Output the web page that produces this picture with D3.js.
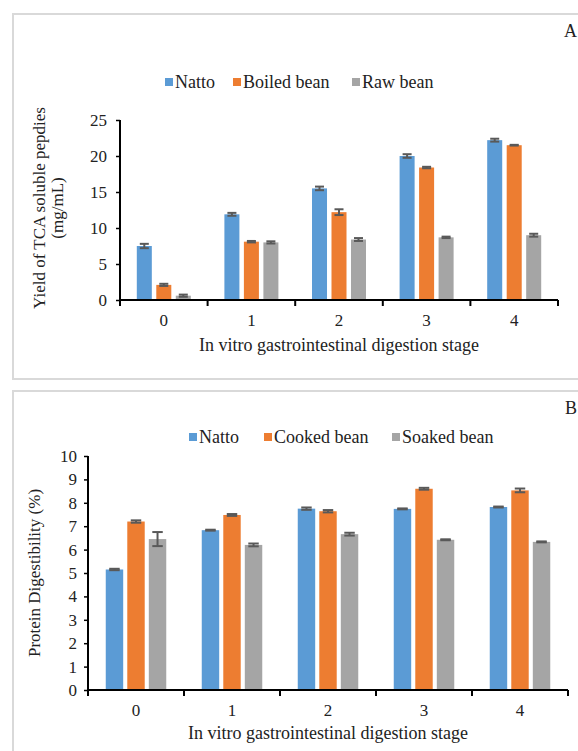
<!DOCTYPE html>
<html>
<head>
<meta charset="utf-8">
<script src="https://cdn.jsdelivr.net/npm/d3@7"></script>
<style>
  body { margin: 0; background: #fff; }
  svg text { font-family: "Liberation Serif", "Times New Roman", serif; fill: #222; }
</style>
</head>
<body>
<script>
// data
const stages = ['0', '1', '2', '3', '4']

const seriesA = ['Natto', 'Boiled bean', 'Raw bean']
const nattoA = [7.5, 11.9, 15.5, 20.0, 22.2]
const boiledA = [2.1, 8.1, 12.2, 18.4, 21.5]
const rawA = [0.6, 8.0, 8.4, 8.7, 9.0]
const nattoAErr = [0.3, 0.2, 0.25, 0.25, 0.2]
const boiledAErr = [0.15, 0.1, 0.4, 0.1, 0.05]
const rawAErr = [0.15, 0.15, 0.2, 0.1, 0.2]
const ticksA = [0, 5, 10, 15, 20, 25]

const seriesB = ['Natto', 'Cooked bean', 'Soaked bean']
const nattoB = [5.15, 6.83, 7.75, 7.74, 7.82]
const cookedB = [7.2, 7.48, 7.64, 8.6, 8.53]
const soakedB = [6.45, 6.2, 6.66, 6.42, 6.33]
const nattoBErr = [0.03, 0.02, 0.05, 0.02, 0.02]
const cookedBErr = [0.05, 0.04, 0.05, 0.04, 0.08]
const soakedBErr = [0.3, 0.06, 0.06, 0.02, 0.02]
const ticksB = [0, 1, 2, 3, 4, 5, 6, 7, 8, 9, 10]

const colors = ['#5b9bd5', '#ed7d31', '#a5a5a5']

const svg = d3.select('body').append('svg').attr('width', 578).attr('height', 751)

function panel(o) {
    // frame
    svg.append('rect').attr('x', 13).attr('y', o.top).attr('width', 600).attr('height', o.h)
        .attr('fill', 'none').attr('stroke', '#d9d9d9').attr('stroke-width', 2)
    svg.append('text').attr('x', 577).attr('y', o.top + 23).attr('text-anchor', 'end')
        .style('font-size', '18px').text(o.letter)

    let x = d3.scaleBand().domain(stages).range([o.x0, o.x1])
    let xs = d3.scaleBand().domain(o.series).range([-o.gw / 2, o.gw / 2]).paddingInner(o.pad)
    let y = d3.scaleLinear().domain([0, o.max]).range([o.y0, o.y1])

    let g = svg.append('g')
    let rows = o.values.map((vals, si) => vals.map((v, i) => ({
        s: o.series[si], si: si, c: stages[i], v: v, e: o.errs[si][i]
    }))).flat()
    let cx = d => x(d.c) + x.bandwidth() / 2 + xs(d.s)

    g.selectAll('rect.bar').data(rows).enter().append('rect').attr('class', 'bar')
        .attr('x', cx)
        .attr('y', d => y(d.v))
        .attr('width', xs.bandwidth())
        .attr('height', d => y(0) - y(d.v))
        .attr('fill', d => colors[d.si])

    // error bars
    let cw = xs.bandwidth() * 0.3
    let mid = d => cx(d) + xs.bandwidth() / 2
    let eb = g.selectAll('g.err').data(rows).enter().append('g').attr('class', 'err')
        .attr('stroke', '#595959').attr('stroke-width', 2)
    eb.append('line')
        .attr('x1', mid).attr('x2', mid)
        .attr('y1', d => y(d.v - d.e)).attr('y2', d => y(d.v + d.e))
    ;[1, -1].forEach(sg => {
        eb.append('line')
            .attr('x1', d => mid(d) - cw).attr('x2', d => mid(d) + cw)
            .attr('y1', d => y(d.v + sg * d.e)).attr('y2', d => y(d.v + sg * d.e))
    })

    // axes
    let yAxis = d3.axisLeft(y).tickValues(o.ticks).tickSize(4).tickPadding(o.tp)
    let ga = svg.append('g').attr('transform', `translate(${o.x0},0)`).call(yAxis)
    ga.select('.domain').attr('stroke', '#000').attr('stroke-width', 2).attr('d', `M0,${o.y1}V${o.y0}`)
    ga.selectAll('.tick line').attr('stroke', '#000').attr('stroke-width', 1.5)
    ga.selectAll('.tick text').style('font-size', '17px')

    let xAxis = d3.axisBottom(x).tickSize(0).tickPadding(14)
    let gx = svg.append('g').attr('transform', `translate(0,${o.y0})`).call(xAxis)
    gx.select('.domain').attr('stroke', '#000').attr('stroke-width', 2).attr('d', `M${o.x0},0H${o.x1}`)
    gx.selectAll('.tick text').style('font-size', '17px')
    let bounds = stages.map(c => x(c)).concat([o.x1])
    gx.selectAll('line.sep').data(bounds).enter().append('line').attr('class', 'sep')
        .attr('x1', d => d).attr('x2', d => d).attr('y1', 0).attr('y2', 6)
        .attr('stroke', '#000').attr('stroke-width', 2)

    svg.append('text').attr('x', (o.x0 + o.x1) / 2).attr('y', o.xt).attr('text-anchor', 'middle')
        .style('font-size', '18px').text('In vitro gastrointestinal digestion stage')

    o.yTitle.forEach((t, i) => {
        svg.append('text').attr('transform', `translate(${o.yt + i * 18},${o.ytc}) rotate(-90)`)
            .attr('text-anchor', 'middle').style('font-size', '17px').text(t)
    })

    // legend
    let lg = svg.append('g').selectAll('g').data(o.series).enter().append('g')
        .attr('transform', (d, i) => `translate(${o.lx[i]},${o.ly})`)
    lg.append('rect').attr('x', 0).attr('y', -5).attr('width', 8).attr('height', 8)
        .attr('fill', (d, i) => colors[i])
    lg.append('text').attr('x', 10).attr('y', 5).style('font-size', '18px').text(d => d)
}

panel({
    top: 14, h: 365, letter: 'A', series: seriesA,
    values: [nattoA, boiledA, rawA], errs: [nattoAErr, boiledAErr, rawAErr],
    ticks: ticksA, max: 25, x0: 120, x1: 558, y0: 300, y1: 120, gw: 54, pad: 0.23, tp: 9,
    xt: 351, yt: 45, ytc: 208, yTitle: ['Yield of TCA soluble pepdies', '(mg/mL)'],
    lx: [165, 233, 352], ly: 83
})

panel({
    top: 391, h: 400, letter: 'B', series: seriesB,
    values: [nattoB, cookedB, soakedB], errs: [nattoBErr, cookedBErr, soakedBErr],
    ticks: ticksB, max: 10, x0: 88, x1: 568, y0: 690, y1: 456, gw: 60.5, pad: 0.19, tp: 7,
    xt: 739, yt: 40, ytc: 573, yTitle: ['Protein Digestibility (%)'],
    lx: [189, 264, 392], ly: 438
})
</script>
</body>
</html>
